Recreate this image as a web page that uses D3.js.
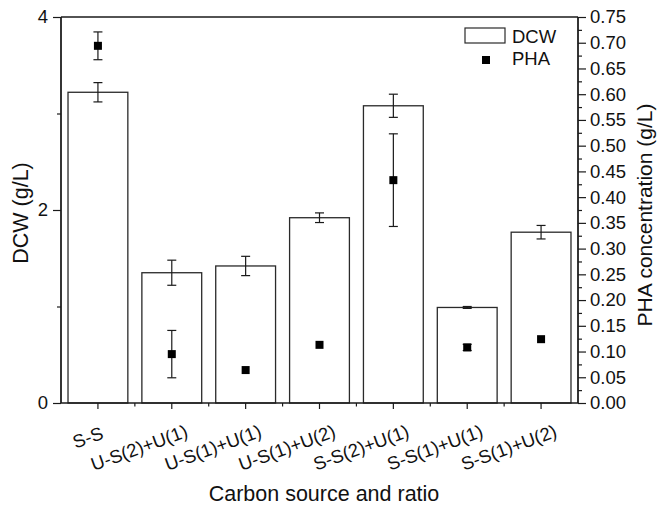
<!DOCTYPE html>
<html>
<head>
<meta charset="utf-8">
<script src="https://cdn.jsdelivr.net/npm/d3@7"></script>
<style>
  html, body { margin: 0; padding: 0; background: #fff; }
  svg text { font-family: "Liberation Sans", Arial, sans-serif; fill: #111; }
</style>
</head>
<body>
<svg id="chart" width="658" height="506"></svg>
<script>
// values
var categories = ['S-S', 'U-S(2)+U(1)', 'U-S(1)+U(1)', 'U-S(1)+U(2)', 'S-S(2)+U(1)', 'S-S(1)+U(1)', 'S-S(1)+U(2)'];
var dcw    = [3.22, 1.35, 1.42, 1.92, 3.08, 0.99, 1.77];
var dcwErr = [0.10, 0.13, 0.10, 0.05, 0.12, 0.01, 0.07];
var pha    = [0.694, 0.095, 0.064, 0.113, 0.433, 0.108, 0.124];
var phaErr = [0.027, 0.046, 0, 0, 0.090, 0.006, 0];
var leftTicks  = [0, 2, 4];
var rightTicks = d3.range(0, 16).map(function (i) { return i * 0.05; });

var svg = d3.select('#chart');
var m = { left: 61, right: 578, top: 17, bottom: 403 };
var ink = '#1a1a1a';

var x = d3.scaleBand().domain(categories).range([m.left, m.right])
    .paddingInner(0.19).paddingOuter(0.095);
var yL = d3.scaleLinear().domain([0, 4]).range([m.bottom, m.top]);
var yR = d3.scaleLinear().domain([0, 0.75]).range([m.bottom, m.top]);

// bars
svg.append('g').selectAll('rect').data(dcw).enter().append('rect')
    .attr('x', function (d, i) { return x(categories[i]); })
    .attr('y', function (d) { return yL(d); })
    .attr('width', x.bandwidth())
    .attr('height', function (d) { return yL(0) - yL(d); })
    .attr('fill', '#fff')
    .attr('stroke', '#2a2a2a')
    .attr('stroke-width', 1.3);

function errorBars(vals, errs, scale) {
    var g = svg.append('g').attr('stroke', ink).attr('stroke-width', 1.2).attr('fill', 'none');
    vals.forEach(function (v, i) {
        if (!errs[i]) return;
        var cx = x(categories[i]) + x.bandwidth() / 2;
        var y1 = scale(v + errs[i]), y2 = scale(v - errs[i]);
        g.append('line').attr('x1', cx).attr('x2', cx).attr('y1', y1).attr('y2', y2);
        g.append('line').attr('x1', cx - 4.5).attr('x2', cx + 4.5).attr('y1', y1).attr('y2', y1);
        g.append('line').attr('x1', cx - 4.5).attr('x2', cx + 4.5).attr('y1', y2).attr('y2', y2);
    });
}
errorBars(dcw, dcwErr, yL);
errorBars(pha, phaErr, yR);

// PHA markers
svg.append('g').selectAll('rect').data(pha).enter().append('rect')
    .attr('x', function (d, i) { return x(categories[i]) + x.bandwidth() / 2 - 4; })
    .attr('y', function (d) { return yR(d) - 4; })
    .attr('width', 8).attr('height', 8)
    .attr('fill', '#000');

// frame: top line
svg.append('line').attr('x1', m.left).attr('x2', m.right).attr('y1', m.top).attr('y2', m.top)
    .attr('stroke', ink).attr('stroke-width', 1.3);

// left axis
var gL = svg.append('g').attr('transform', 'translate(' + m.left + ',0)')
    .call(d3.axisLeft(yL).tickValues(leftTicks).tickFormat(d3.format('d')).tickSize(8).tickPadding(5));
gL.append('g').call(d3.axisLeft(yL).tickValues([1, 3]).tickSize(4).tickFormat(''));

// right axis
var gR = svg.append('g').attr('transform', 'translate(' + m.right + ',0)')
    .call(d3.axisRight(yR).tickValues(rightTicks).tickFormat(d3.format('.2f')).tickSize(8).tickPadding(4));
gR.append('g').call(d3.axisRight(yR).tickValues(rightTicks.slice(0, 15).map(function (t) { return t + 0.025; }))
    .tickSize(4).tickFormat(''));

// bottom axis
var gB = svg.append('g').attr('transform', 'translate(0,' + m.bottom + ')')
    .call(d3.axisBottom(x).tickSize(6).tickFormat(''));
var bounds = d3.range(1, categories.length).map(function (k) { return m.left + k * x.step(); });
gB.selectAll('.minor').data(bounds).enter().append('line')
    .attr('class', 'minor')
    .attr('x1', function (d) { return d; }).attr('x2', function (d) { return d; })
    .attr('y1', 0).attr('y2', 3.5)
    .attr('stroke', ink).attr('stroke-width', 1.2);

[gL, gR, gB].forEach(function (g) {
    g.selectAll('.domain').attr('stroke', ink).attr('stroke-width', 1.3);
    g.selectAll('.tick line').attr('stroke', ink).attr('stroke-width', 1.2);
    g.selectAll('.tick text').attr('font-size', 18.5).attr('fill', ink)
        .attr('font-family', '"Liberation Sans", Arial, sans-serif');
});
gL.selectAll('.domain').attr('d', 'M0,' + m.top + 'V' + m.bottom);
gR.selectAll('.domain').attr('d', 'M0,' + m.top + 'V' + m.bottom);
gB.selectAll('.domain').attr('d', 'M' + m.left + ',0H' + m.right);

// rotated category labels
var labels = svg.append('g').selectAll('text').data(categories).enter().append('text')
    .attr('font-size', 18.5)
    .attr('text-anchor', 'end')
    .text(function (d) { return d; });
labels.attr('transform', function (d) {
    var len = this.getComputedTextLength();
    var tx = x(d) + x.bandwidth() / 2 + 2 + 0.15 * len;
    var ty = 439 - 0.025 * len;
    return 'translate(' + tx + ',' + ty + ') rotate(-20)';
});

// axis titles
svg.append('text').attr('font-size', 21.5).attr('text-anchor', 'middle')
    .attr('transform', 'translate(28,213) rotate(-90)').text('DCW (g/L)');
svg.append('text').attr('font-size', 21).attr('text-anchor', 'middle')
    .attr('transform', 'translate(652,215) rotate(-90)').text('PHA concentration (g/L)');
svg.append('text').attr('font-size', 21.5).attr('text-anchor', 'middle')
    .attr('x', 324).attr('y', 501).text('Carbon source and ratio');

// legend
var lg = svg.append('g');
lg.append('rect').attr('x', 465).attr('y', 28).attr('width', 40).attr('height', 15)
    .attr('fill', '#fff').attr('stroke', '#2a2a2a').attr('stroke-width', 1.2);
lg.append('text').attr('x', 512).attr('y', 43).attr('font-size', 18.5).text('DCW');
lg.append('rect').attr('x', 482).attr('y', 56).attr('width', 8).attr('height', 8).attr('fill', '#000');
lg.append('text').attr('x', 512).attr('y', 65).attr('font-size', 18.5).text('PHA');
</script>
</body>
</html>
